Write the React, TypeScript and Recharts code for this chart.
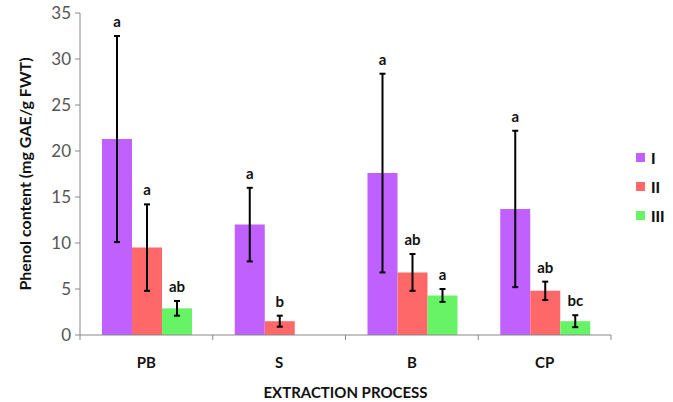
import React from "react";
import {
  BarChart,
  Bar,
  XAxis,
  YAxis,
  ErrorBar,
  LabelList,
} from "recharts";

const categories = ["PB", "S", "B", "CP"];

const seriesI = [21.3, 12.0, 17.6, 13.7];
const seriesII = [9.5, 1.5, 6.8, 4.8];
const seriesIII = [2.9, null, 4.3, 1.5];

const errI = [11.2, 4.0, 10.8, 8.5];
const errII = [4.7, 0.6, 2.0, 1.0];
const errIII = [0.8, null, 0.7, 0.65];

const lettersI = ["a", "a", "a", "a"];
const lettersII = ["a", "b", "ab", "ab"];
const lettersIII = ["ab", "", "a", "bc"];

const yTicks = [0, 5, 10, 15, 20, 25, 30, 35];

const FONT = "Lato, 'Open Sans', sans-serif";

const data = categories.map((name, i) => ({
  name,
  I: seriesI[i],
  II: seriesII[i],
  III: seriesIII[i],
  eI: errI[i],
  eII: errII[i],
  eIII: errIII[i],
  lI: lettersI[i],
  lII: lettersII[i],
  lIII: lettersIII[i],
}));

const series = [
  { key: "I", err: "eI", lab: "lI", color: "#C060FF" },
  { key: "II", err: "eII", lab: "lII", color: "#FF6868" },
  { key: "III", err: "eIII", lab: "lIII", color: "#66F466" },
];

function makeLetter(key: string, err: string, lab: string) {
  return (props: any) => {
    const { x, y, width, height, value } = props;
    if (!value || value[key] == null || !value[lab]) return null;
    const perUnit = height / value[key];
    const top = y - (value[err] || 0) * perUnit;
    return (
      <text
        x={x + width / 2}
        y={top - 9}
        textAnchor="middle"
        fontFamily={FONT}
        fontWeight="bold"
        fontSize={15}
        fill="#111"
      >
        {value[lab]}
      </text>
    );
  };
}

function CategoryTick(props: any) {
  const { x, y, payload, index } = props;
  const half = payload.offset || 0;
  return (
    <g>
      <line x1={x - half} y1={y} x2={x - half} y2={y + 5} stroke="#888" />
      {index === categories.length - 1 && (
        <line x1={x + half} y1={y} x2={x + half} y2={y + 5} stroke="#888" />
      )}
      <text
        x={x}
        y={y + 33}
        textAnchor="middle"
        fontFamily={FONT}
        fontWeight="bold"
        fontSize={15}
        fill="#111"
      >
        {payload.value}
      </text>
    </g>
  );
}

function LegendBox() {
  return (
    <div
      style={{
        position: "absolute",
        left: 636,
        top: 143,
        fontFamily: FONT,
        fontWeight: 900,
        fontSize: 15,
        color: "#111",
      }}
    >
      {series.map((s) => (
        <div key={s.key} style={{ display: "flex", alignItems: "center", height: 29 }}>
          <span
            style={{
              display: "inline-block",
              width: 9,
              height: 9,
              background: s.color,
              marginRight: 6,
            }}
          />
          {s.key}
        </div>
      ))}
    </div>
  );
}

export default function App() {
  return (
    <div
      style={{
        position: "absolute",
        left: 0,
        top: 0,
        width: 673,
        height: 402,
        background: "#fff",
      }}
    >
      <BarChart
        width={673}
        height={402}
        data={data}
        margin={{ top: 13, right: 62, bottom: 0, left: 0 }}
        barCategoryGap={22}
        barGap={0}
      >
        <XAxis
          dataKey="name"
          height={67}
          stroke="#888"
          tickLine={false}
          tickSize={0}
          tickMargin={0}
          tick={<CategoryTick />}
          interval={0}
          label={{
            value: "EXTRACTION PROCESS",
            position: "insideBottom",
            offset: 4,
            fontFamily: FONT,
            fontWeight: "bold",
            fontSize: 15,
            fill: "#111",
          }}
        />
        <YAxis
          width={80}
          domain={[0, 35]}
          ticks={yTicks}
          interval={0}
          stroke="#888"
          tickSize={5}
          tickMargin={4}
          tick={{ fontFamily: FONT, fontSize: 17, fill: "#555" }}
          label={{
            value: "Phenol content (mg GAE/g FWT)",
            angle: -90,
            position: "insideLeft",
            offset: 25,
            style: { textAnchor: "middle" },
            fontFamily: FONT,
            fontWeight: "bold",
            fontSize: 16,
            fill: "#111",
          }}
        />
        {series.map((s) => (
          <Bar key={s.key} dataKey={s.key} fill={s.color} isAnimationActive={false}>
            <ErrorBar dataKey={s.err} width={3} stroke="#000" strokeWidth={2} />
            <LabelList
              dataKey={(d: any) => d}
              content={makeLetter(s.key, s.err, s.lab)}
            />
          </Bar>
        ))}
      </BarChart>
      <LegendBox />
    </div>
  );
}
